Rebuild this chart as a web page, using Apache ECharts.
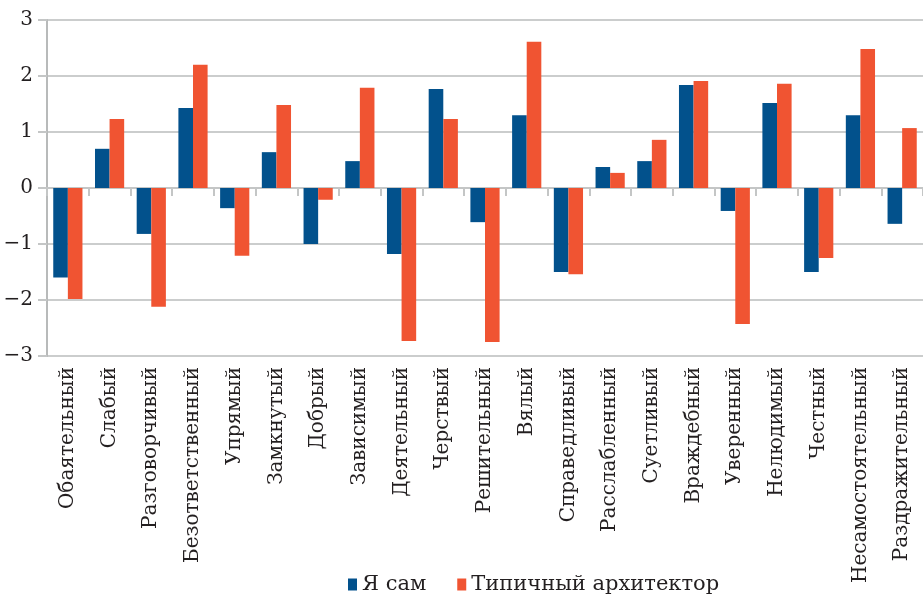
<html>
<head>
    <meta charset="utf-8">
    <script src="https://cdn.jsdelivr.net/npm/echarts@6/dist/echarts.min.js"></script>
    <style>
        body { margin: 0; background: #fff; }
        #graph { width: 923px; height: 597px; }
    </style>
</head>
<body>
<div id="graph"></div>
<script>
    const categories = ['Обаятельный', 'Слабый', 'Разговорчивый', 'Безответственный', 'Упрямый',
        'Замкнутый', 'Добрый', 'Зависимый', 'Деятельный', 'Черствый', 'Решительный', 'Вялый',
        'Справедливый', 'Расслабленный', 'Суетливый', 'Враждебный', 'Уверенный', 'Нелюдимый',
        'Честный', 'Несамостоятельный', 'Раздражительный'];
    const selfValues = [-1.60, 0.70, -0.82, 1.43, -0.36, 0.64, -1.00, 0.48, -1.18, 1.77, -0.61, 1.30,
        -1.50, 0.375, 0.48, 1.84, -0.41, 1.52, -1.50, 1.30, -0.64];
    const architectValues = [-1.98, 1.23, -2.12, 2.20, -1.21, 1.48, -0.21, 1.79, -2.73, 1.23, -2.75, 2.61,
        -1.54, 0.27, 0.86, 1.91, -2.43, 1.86, -1.25, 2.48, 1.07];
    const seriesNames = ['Я сам', 'Типичный архитектор'];
    const yTicks = { min: -3, max: 3, interval: 1 };

    const font = '"DejaVu Serif", "Liberation Serif", serif';
    const chart = echarts.init(document.getElementById('graph'));
    chart.setOption({
        animation: false,
        textStyle: { fontFamily: font },
        grid: { left: 47, top: 20, width: 887, bottom: 241 },
        legend: {
            top: 569,
            left: 343,
            icon: 'rect',
            itemWidth: 9,
            itemHeight: 12,
            itemGap: 31,
            textStyle: { fontFamily: font, fontSize: 21, color: '#231f20' },
            data: seriesNames
        },
        xAxis: [{
            type: 'category',
            data: categories,
            axisLine: { onZero: true, lineStyle: { color: '#c4c6c6', width: 2 } },
            axisTick: { show: true, interval: 0, length: 8, lineStyle: { color: '#c4c6c6', width: 2 } },
            axisLabel: { show: false }
        }, {
            type: 'category',
            data: categories,
            position: 'bottom',
            axisLine: { show: false, onZero: false },
            axisTick: { show: false },
            axisLabel: {
                rotate: 90,
                margin: 11,
                interval: 0,
                fontFamily: font,
                fontSize: 20,
                color: '#231f20'
            }
        }],
        yAxis: {
            type: 'value',
            min: yTicks.min,
            max: yTicks.max,
            interval: yTicks.interval,
            axisLine: { show: true, lineStyle: { color: '#b8baba', width: 2 } },
            axisTick: { show: true, length: 9, lineStyle: { color: '#c4c6c6', width: 2 } },
            splitLine: { lineStyle: { color: '#cbcdcd', width: 2 } },
            axisLabel: {
                margin: 14,
                fontFamily: font,
                fontSize: 20,
                color: '#231f20',
                formatter: function (v) { return String(v).replace('-', '\u2212'); }
            }
        },
        series: [{
            name: seriesNames[0],
            type: 'bar',
            xAxisIndex: 0,
            data: selfValues,
            barGap: '0%',
            barCategoryGap: '30%',
            itemStyle: { color: '#02518c' }
        }, {
            name: seriesNames[1],
            type: 'bar',
            xAxisIndex: 0,
            data: architectValues,
            barGap: '0%',
            barCategoryGap: '30%',
            itemStyle: { color: '#f05432' }
        }]
    });
</script>
</body>
</html>
